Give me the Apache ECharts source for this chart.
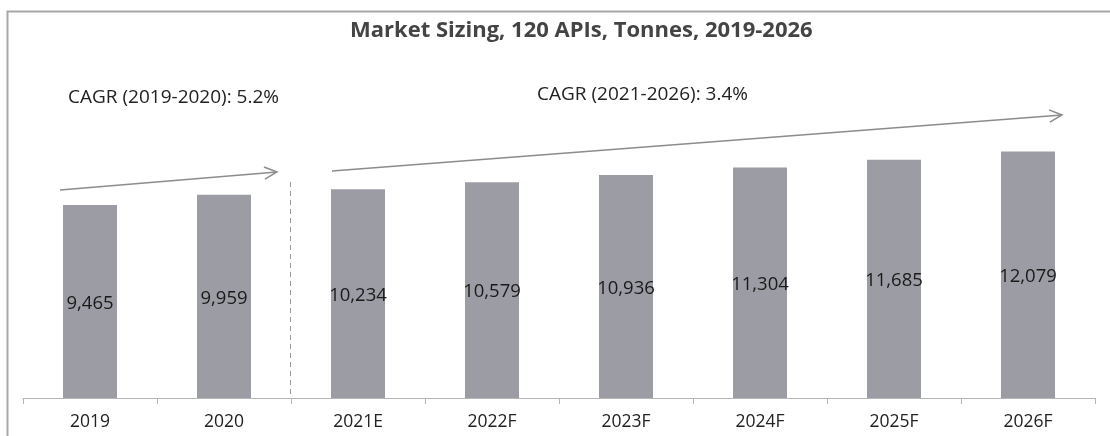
<!DOCTYPE html>
<html>
<head>
<meta charset="utf-8">
<title>Market Sizing, 120 APIs, Tonnes, 2019-2026</title>
<script src="https://cdn.jsdelivr.net/npm/echarts@6/dist/echarts.min.js"></script>
<style>
  html, body { margin: 0; padding: 0; background: #fff; }
  #chart { width: 1110px; height: 436px; }
</style>
</head>
<body>
<div id="chart"></div>
<script>
  // data
  var years = ['2019', '2020', '2021E', '2022F', '2023F', '2024F', '2025F', '2026F']
  var tonnes = [9465, 9959, 10234, 10579, 10936, 11304, 11685, 12079]
  var cagrNotes = ['CAGR (2019-2020): 5.2%', 'CAGR (2021-2026): 3.4%']

  var font = '"Open Sans", sans-serif'
  var arrowColor = '#8c8c8c'

  // open arrow head as a polyline
  function arrow(x1, y1, x2, y2) {
    var a = Math.atan2(y2 - y1, x2 - x1)
    var len = 14, spread = 0.45
    var p1 = [x2 - len * Math.cos(a - spread), y2 - len * Math.sin(a - spread)]
    var p2 = [x2 - len * Math.cos(a + spread), y2 - len * Math.sin(a + spread)]
    return [
      { type: 'line', shape: { x1: x1, y1: y1, x2: x2, y2: y2 }, style: { stroke: arrowColor, lineWidth: 1.5 } },
      { type: 'polyline', shape: { points: [p1, [x2, y2], p2] }, style: { stroke: arrowColor, lineWidth: 1.5, fill: null } }
    ]
  }

  var chart = echarts.init(document.getElementById('chart'))

  chart.setOption({
    animation: false,
    title: {
      text: 'Market Sizing, 120 APIs, Tonnes, 2019-2026',
      left: 345,
      top: 15,
      textStyle: { fontFamily: font, fontSize: 22, fontWeight: 'bold', color: '#444' }
    },
    grid: { left: 23, right: 15, top: 92, bottom: 38 },
    xAxis: {
      type: 'category',
      data: years,
      axisLine: { lineStyle: { color: '#b5b5b5', width: 1 } },
      axisTick: { show: true, length: 6, lineStyle: { color: '#b5b5b5' } },
      axisLabel: { fontFamily: font, fontSize: 17.5, color: '#222', margin: 15 }
    },
    yAxis: {
      type: 'value',
      min: 0,
      max: 15000,
      show: false,
      splitLine: { show: false }
    },
    series: [{
      type: 'bar',
      data: tonnes,
      barWidth: 54,
      itemStyle: { color: '#9c9ca4' },
      label: {
        show: true,
        position: 'inside',
        offset: [0, 2],
        fontFamily: font,
        fontSize: 18.5,
        color: '#1a1a1a',
        formatter: function (p) { return p.value.toLocaleString('en-US') }
      }
    }],
    graphic: [
      // outer frame (left and top edges visible)
      { type: 'polyline', shape: { points: [[7.5, 436], [7.5, 11.5], [1110, 11.5]] }, style: { stroke: '#a8a8a8', lineWidth: 2, fill: null } },
      // actual / forecast divider
      { type: 'line', shape: { x1: 290.5, y1: 182, x2: 290.5, y2: 398 }, style: { stroke: '#9a9a9a', lineWidth: 1, lineDash: [5, 4] } },
      { type: 'text', left: 68, top: 88, style: { text: cagrNotes[0], font: '19px ' + font, fill: '#222' } },
      { type: 'text', left: 537, top: 85, style: { text: cagrNotes[1], font: '19px ' + font, fill: '#222' } }
    ].concat(arrow(60, 190, 277, 172)).concat(arrow(332, 171, 1062, 115))
  })
</script>
</body>
</html>
